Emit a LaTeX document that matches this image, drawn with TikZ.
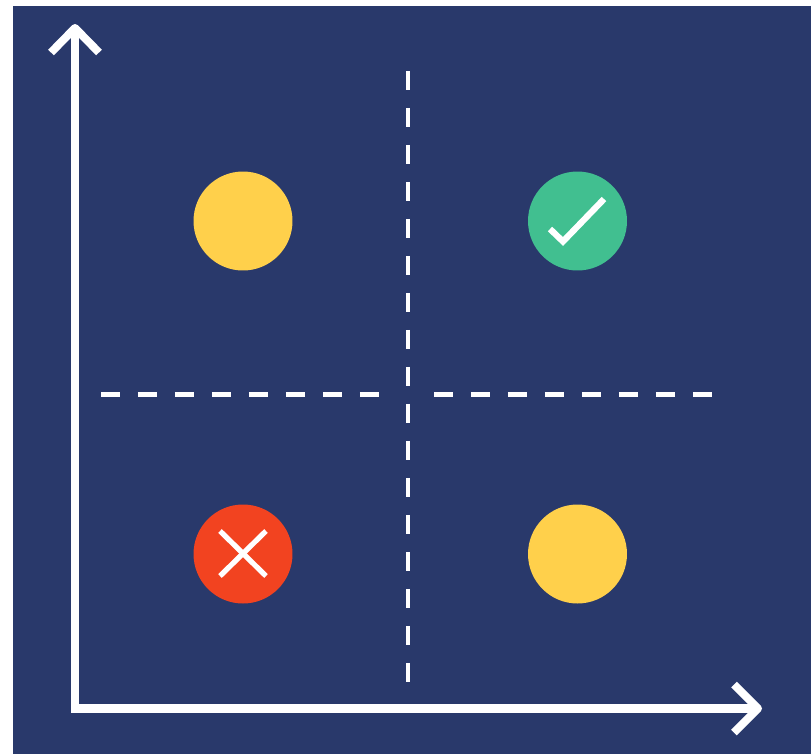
\documentclass[tikz,border=0pt]{standalone}

\definecolor{quadnavy}{HTML}{29396B}
\definecolor{quadyellow}{HTML}{FFD04B}
\definecolor{quadgreen}{HTML}{41BF90}
\definecolor{quadred}{HTML}{F24320}

\begin{document}
\begin{tikzpicture}[x=0.02cm, y=-0.02cm,
  axisline/.style={draw=white, line width=0.178cm, line join=miter},
  axistip/.style={draw=white, line width=0.16cm, line join=round},
  quadline/.style={draw=white, line width=0.09cm, dash pattern=on 0.38cm off 0.36cm},
  quaddot/.style={circle, inner sep=0pt, minimum size=1.98cm},
  quadmark/.style={draw=white, line width=0.105cm}]

% ================================================================
% Page and panel
% ================================================================
\useasboundingbox (0, 0) rectangle (811, 754);
\fill[white] (0, 0) rectangle (811, 754);
\fill[quadnavy] (12.5, 6) rectangle (811, 754);

% ================================================================
% Axes
% ================================================================
\coordinate (origin) at (75, 708.5);
\coordinate (ytip) at (75, 28);
\coordinate (xtip) at (758, 708.5);
\draw[axisline] (ytip) -- (origin) -- (xtip);
\draw[axistip] (ytip) +(-24, 24.5) -- (ytip) -- +(24, 24.5);
\draw[axistip] (xtip) +(-24, -24) -- (xtip) -- +(-24, 24);

% ================================================================
% Quadrant separators
% ================================================================
\coordinate (vtop) at (408, 71);
\coordinate (vbot) at (408, 682);
\coordinate (hleftA) at (101, 394.5);
\coordinate (hleftB) at (379, 394.5);
\coordinate (hrightA) at (434, 394.5);
\coordinate (hrightB) at (712, 394.5);
\draw[quadline] (vtop) -- (vbot);
\draw[quadline] (hleftA) -- (hleftB);
\draw[quadline] (hrightA) -- (hrightB);

% ================================================================
% Quadrant dots
% ================================================================
\node[quaddot, fill=quadyellow] (dotTL) at (243, 221) {};
\node[quaddot, fill=quadgreen] (dotTR) at (577.5, 221) {};
\node[quaddot, fill=quadred] (dotBL) at (243, 554) {};
\node[quaddot, fill=quadyellow] (dotBR) at (577.5, 554) {};

% Check mark
\draw[quadmark, line width=0.125cm, line join=miter] (550, 229) -- (563, 241.5) -- (604, 199);

% Cross mark
\draw[quadmark] (220, 531) -- (266, 576);
\draw[quadmark] (266, 531) -- (220, 576);

\end{tikzpicture}
\end{document}
